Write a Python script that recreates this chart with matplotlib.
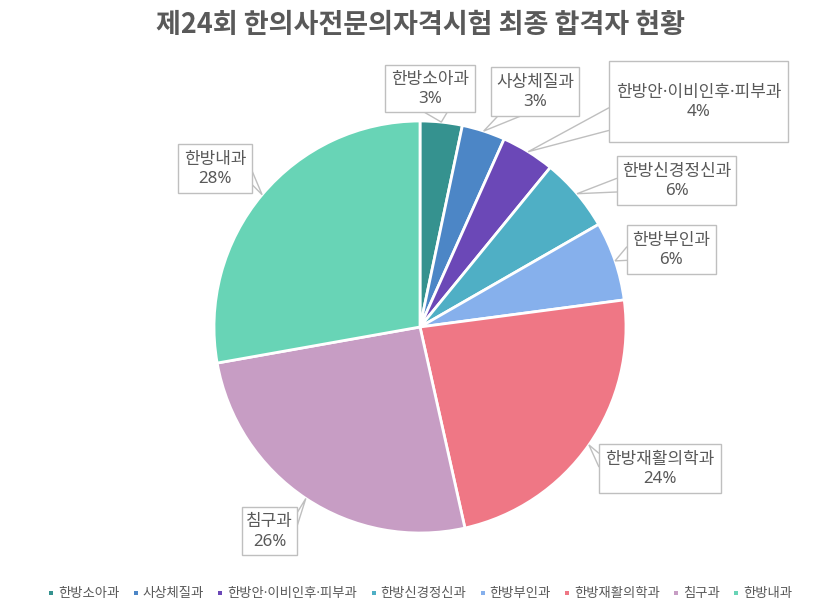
"""
Pie chart: 24th Korean medicine specialist exam final passers by department.
"""

import matplotlib

matplotlib.use("Agg")

import matplotlib.pyplot as plt
import numpy as np
from matplotlib.lines import Line2D
from matplotlib.patches import Polygon, Rectangle

plt.rcParams["font.family"] = ["Noto Sans CJK KR", "DejaVu Sans"]
# narrow middle dot and digits from Noto Sans, Hangul falls back to CJK
LABEL_FONT = ["Noto Sans", "Noto Sans CJK KR"]

TITLE = "제24회 한의사전문의자격시험 최종 합격자 현황"

departments = [
    "한방소아과",
    "사상체질과",
    "한방안·이비인후·피부과",
    "한방신경정신과",
    "한방부인과",
    "한방재활의학과",
    "침구과",
    "한방내과",
]
shares = [3.3, 3.4, 4.2, 5.8, 6.2, 23.6, 25.7, 27.8]
colors = ["#35928f", "#4c86c6", "#6b48b7", "#4fafc5", "#86b0ec", "#ef7785", "#c79dc4", "#68d4b6"]

# callout boxes in pixel coords (left, top, right, bottom), y measured from top
boxes = [
    (385, 65, 475, 112),
    (491, 67, 579, 116),
    (609, 61, 788, 142),
    (617, 156, 736, 205),
    (627, 225, 716, 274),
    (599, 444, 721, 493),
    (242, 507, 297, 555),
    (178, 144, 252, 193),
]

W, H = 840, 615
CX, CY, R = 420, 327, 206
TEXT = "#595959"
EDGE = "#bfbfbf"


def pointer_base(box, tip):
    """Two points on the box edge facing the tip (Excel style callout)."""
    l, t, r, b = box
    tx, ty = tip
    d = {
        "left": l - tx,
        "right": tx - r,
        "top": t - ty,
        "bottom": ty - b,
    }
    side = max(d, key=d.get)
    if side in ("left", "right"):
        half = 0.14 * (b - t)
        mid = (t + b) / 2
        c = min(max(mid + 0.35 * (ty - mid), t + half), b - half)
        x = l if side == "left" else r
        return (x, c - half), (x, c + half)
    half = 0.13 * (r - l)
    mid = (l + r) / 2
    c = min(max(mid + 0.5 * (tx - mid), l + half), r - half)
    y = t if side == "top" else b
    return (c - half, y), (c + half, y)


def main() -> None:
    fig = plt.figure(figsize=(W / 100, H / 100), dpi=100)
    ax = fig.add_axes([0, 0, 1, 1])

    # y axis is inverted, so counterclock=True draws clockwise on screen
    wedges, _ = ax.pie(
        shares,
        colors=colors,
        startangle=-90,
        counterclock=True,
        center=(CX, CY),
        radius=R,
        wedgeprops=dict(edgecolor="white", linewidth=2),
        frame=True,
    )
    ax.set_xlim(0, W)
    ax.set_ylim(H, 0)
    ax.set_aspect("equal")
    ax.axis("off")

    total = sum(shares)
    for wedge, name, val, box in zip(wedges, departments, shares, boxes):
        ang = np.deg2rad((wedge.theta1 + wedge.theta2) / 2)
        tip = (CX + R * np.cos(ang), CY + R * np.sin(ang))
        p1, p2 = pointer_base(box, tip)
        ax.add_patch(Polygon([p1, tip, p2], closed=False, facecolor="white", edgecolor=EDGE, lw=1, zorder=4))
        l, t, r, b = box
        ax.add_patch(Rectangle((l, t), r - l, b - t, facecolor="white", edgecolor=EDGE, lw=1, zorder=5))
        ax.text(
            (l + r) / 2,
            (t + b) / 2 + 1,
            f"{name}\n{val / total * 100:.0f}%",
            ha="center",
            va="center",
            fontsize=12.2,
            family=LABEL_FONT,
            color=TEXT,
            linespacing=1.3,
            zorder=6,
        )

    ax.text(W / 2, 25, TITLE, ha="center", va="center", fontsize=19.5, fontweight="bold", color=TEXT)

    handles = [
        Line2D([], [], marker="s", linestyle="none", markersize=3.5, color=c, markeredgewidth=0)
        for c in colors
    ]
    fig.legend(
        handles,
        departments,
        loc="center",
        bbox_to_anchor=(0.5, 1 - 594 / H),
        ncol=len(departments),
        frameon=False,
        prop=dict(family=LABEL_FONT, size=9.6),
        handlelength=0.5,
        handletextpad=0.25,
        columnspacing=1.0,
        labelcolor=TEXT,
    )

    fig.savefig("out.png", dpi=100)
    plt.close(fig)


if __name__ == "__main__":
    main()
